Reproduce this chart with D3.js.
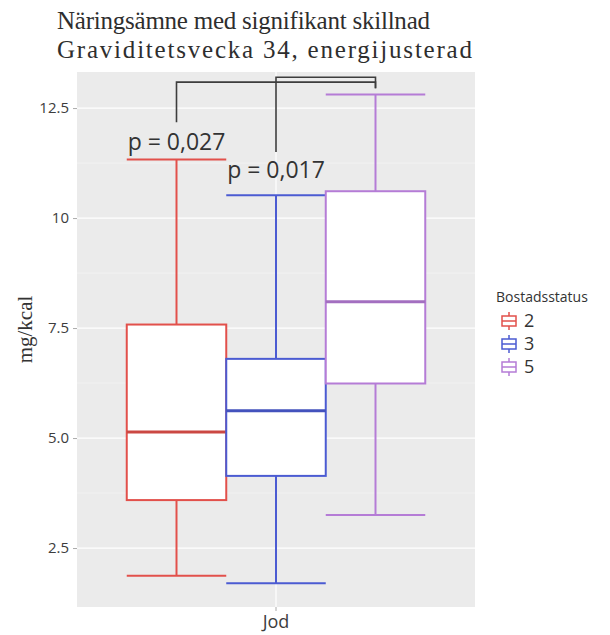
<!DOCTYPE html>
<html>
<head>
<meta charset="utf-8">
<script src="https://cdn.jsdelivr.net/npm/d3@7"></script>
<style>
  body { margin: 0; background: #fff; }
  svg { display: block; }
</style>
</head>
<body>
<svg id="chart"></svg>
<script>
// data
const categories = ["Jod"];
const groups = ["2", "3", "5"];
const lower = [1.87, 1.70, 3.25];
const q1 = [3.59, 4.14, 6.24];
const median = [5.14, 5.62, 8.10];
const q3 = [7.58, 6.80, 10.61];
const upper = [11.33, 10.52, 12.81];
const yTicks = [2.5, 5.0, 7.5, 10, 12.5];
const yTickLabels = ["2.5", "5.0", "7.5", "10", "12.5"];
const minorTicks = [3.75, 6.25, 8.75, 11.25];
const pLabels = ["p = 0,027", "p = 0,017"];
const colors = ["#e2504b", "#4b5bd2", "#b57cd6"];

const width = 610, height = 635;
const panel = { left: 77, right: 475, top: 72, bottom: 607 };

const svg = d3.select("#chart").attr("width", width).attr("height", height);

// scales
const x = d3.scaleBand()
    .domain(categories)
    .range([panel.left, panel.right])
    .padding(1 / 7);

const xg = d3.scaleBand()
    .domain(groups)
    .range([0, x.bandwidth()]);

const y = d3.scaleLinear()
    .domain([1.16, 13.32])
    .range([panel.bottom, panel.top]);

// panel background
svg.append("rect")
    .attr("x", panel.left).attr("y", panel.top)
    .attr("width", panel.right - panel.left)
    .attr("height", panel.bottom - panel.top)
    .attr("fill", "#ebebeb");

// grid
svg.selectAll(".minor").data(minorTicks).enter().append("line")
    .attr("x1", panel.left).attr("x2", panel.right)
    .attr("y1", d => y(d)).attr("y2", d => y(d))
    .attr("stroke", "#f7f7f7").attr("stroke-width", 0.6);
svg.selectAll(".major").data(yTicks).enter().append("line")
    .attr("x1", panel.left).attr("x2", panel.right)
    .attr("y1", d => y(d)).attr("y2", d => y(d))
    .attr("stroke", "#fff").attr("stroke-width", 1.2);
svg.selectAll(".vmajor").data(categories).enter().append("line")
    .attr("x1", d => x(d) + x.bandwidth() / 2).attr("x2", d => x(d) + x.bandwidth() / 2)
    .attr("y1", panel.top).attr("y2", panel.bottom)
    .attr("stroke", "#fff").attr("stroke-width", 1.2);

// y axis
const yAxis = svg.append("g")
    .attr("transform", "translate(" + panel.left + ",0)")
    .call(d3.axisLeft(y).tickValues(yTicks).tickFormat((d, i) => yTickLabels[i]).tickSize(4).tickPadding(4));
yAxis.select(".domain").remove();
yAxis.selectAll(".tick line").attr("stroke", "#aaa");
yAxis.selectAll(".tick text")
    .attr("fill", "#3d3d3d")
    .style("font", "15px 'Open Sans', sans-serif");

// x axis
const xAxis = svg.append("g")
    .attr("transform", "translate(0," + panel.bottom + ")")
    .call(d3.axisBottom(x).tickSize(4).tickPadding(4));
xAxis.select(".domain").remove();
xAxis.selectAll(".tick line").attr("stroke", "#aaa");
xAxis.selectAll(".tick text")
    .attr("fill", "#3d3d3d")
    .style("font", "18px 'Open Sans', sans-serif");

// boxes
const gx = i => x(categories[0]) + xg(groups[i]);
const cx = i => gx(i) + xg.bandwidth() / 2;

const boxes = svg.selectAll(".box").data(groups).enter().append("g");

boxes.append("line")
    .attr("x1", (d, i) => cx(i)).attr("x2", (d, i) => cx(i))
    .attr("y1", (d, i) => y(upper[i])).attr("y2", (d, i) => y(q3[i]))
    .attr("stroke", (d, i) => colors[i]).attr("stroke-width", 2);
boxes.append("line")
    .attr("x1", (d, i) => cx(i)).attr("x2", (d, i) => cx(i))
    .attr("y1", (d, i) => y(q1[i])).attr("y2", (d, i) => y(lower[i]))
    .attr("stroke", (d, i) => colors[i]).attr("stroke-width", 2);
// whisker caps
boxes.append("line")
    .attr("x1", (d, i) => gx(i)).attr("x2", (d, i) => gx(i) + xg.bandwidth())
    .attr("y1", (d, i) => y(upper[i])).attr("y2", (d, i) => y(upper[i]))
    .attr("stroke", (d, i) => colors[i]).attr("stroke-width", 2);
boxes.append("line")
    .attr("x1", (d, i) => gx(i)).attr("x2", (d, i) => gx(i) + xg.bandwidth())
    .attr("y1", (d, i) => y(lower[i])).attr("y2", (d, i) => y(lower[i]))
    .attr("stroke", (d, i) => colors[i]).attr("stroke-width", 2);
boxes.append("rect")
    .attr("x", (d, i) => gx(i))
    .attr("width", xg.bandwidth())
    .attr("y", (d, i) => y(q3[i]))
    .attr("height", (d, i) => y(q1[i]) - y(q3[i]))
    .attr("fill", "#fff")
    .attr("stroke", (d, i) => colors[i]).attr("stroke-width", 2);
boxes.append("line")
    .attr("x1", (d, i) => gx(i)).attr("x2", (d, i) => gx(i) + xg.bandwidth())
    .attr("y1", (d, i) => y(median[i])).attr("y2", (d, i) => y(median[i]))
    .attr("stroke", (d, i) => d3.color(colors[i]).darker(0.3)).attr("stroke-width", 3);

// significance brackets (group 2 vs 5, group 3 vs 5)
const brackets = [
    { from: 0, to: 2, yStart: 12.18, yTop: 13.09, yEnd: 12.95 },
    { from: 1, to: 2, yStart: 11.5, yTop: 13.2, yEnd: 12.95 }
];
svg.selectAll(".bracket").data(brackets).enter().append("path")
    .attr("d", b => "M" + cx(b.from) + "," + y(b.yStart) + "V" + y(b.yTop) + "H" + cx(b.to) + "V" + y(b.yEnd))
    .attr("fill", "none").attr("stroke", "#3d3d3d").attr("stroke-width", 1.6);

const pY = [11.55, 10.91];
svg.selectAll(".pval").data(pLabels).enter().append("text")
    .attr("x", (d, i) => cx(i))
    .attr("y", (d, i) => y(pY[i]))
    .attr("text-anchor", "middle")
    .attr("fill", "#333")
    .style("font", "23px 'Open Sans', sans-serif")
    .text(d => d);

// titles
const titleLines = ["Näringsämne med signifikant skillnad", "Graviditetsvecka 34, energijusterad"];
const titleWidths = [373, 415];
svg.selectAll(".title").data(titleLines).enter().append("text")
    .attr("x", 57).attr("y", (d, i) => 29 + i * 29)
    .attr("fill", "#2e2e2e")
    .attr("font-family", "'Liberation Serif', 'Times New Roman', serif")
    .attr("font-size", 25)
    .attr("textLength", (d, i) => titleWidths[i])
    .attr("lengthAdjust", "spacing")
    .text(d => d);

// y label
svg.append("text")
    .attr("transform", "translate(32," + ((panel.top + panel.bottom) / 2 - 10) + ") rotate(-90)")
    .attr("text-anchor", "middle")
    .attr("fill", "#333")
    .attr("font-family", "'Liberation Serif', 'Times New Roman', serif")
    .attr("font-size", 21)
    .text("mg/kcal");

// legend
const legend = svg.append("g").attr("transform", "translate(496,0)");
legend.append("text").attr("x", 0).attr("y", 302)
    .attr("fill", "#333")
    .style("font", "14px 'Open Sans', sans-serif")
    .text("Bostadsstatus");
const keyY = d3.scalePoint().domain(groups).range([321, 367]);
const keys = legend.selectAll(".key").data(groups).enter().append("g")
    .attr("transform", d => "translate(13," + keyY(d) + ")");
keys.append("line").attr("x1", 0).attr("x2", 0).attr("y1", -9).attr("y2", 9)
    .attr("stroke", (d, i) => colors[i]).attr("stroke-width", 1.5);
keys.append("rect").attr("x", -7).attr("y", -5).attr("width", 14).attr("height", 10)
    .attr("fill", "#fff").attr("stroke", (d, i) => colors[i]).attr("stroke-width", 1.5);
keys.append("line").attr("x1", -7).attr("x2", 7).attr("y1", 0).attr("y2", 0)
    .attr("stroke", (d, i) => colors[i]).attr("stroke-width", 1.5);
keys.append("text").attr("x", 15).attr("y", 0).attr("dy", "0.35em")
    .attr("fill", "#333")
    .style("font", "18px 'Open Sans', sans-serif")
    .text(d => d);
</script>
</body>
</html>
